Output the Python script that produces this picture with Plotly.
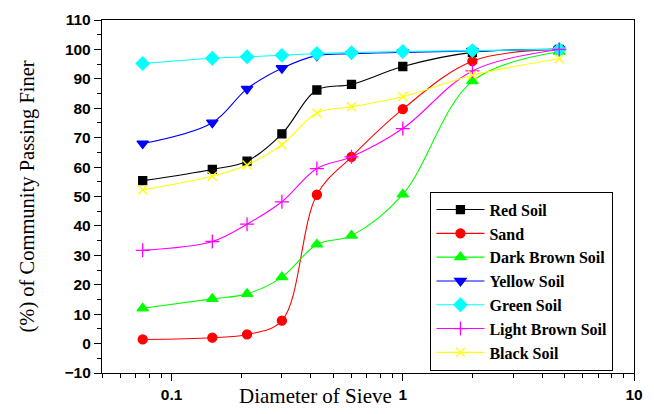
import plotly.graph_objects as go

sieve = [0.075, 0.15, 0.212, 0.3, 0.425, 0.6, 1.0, 2.0, 4.75]

red_soil = [55.4, 59.2, 62.0, 71.3, 86.2, 88.1, 94.2, 99.0, 100.0]
sand = [1.4, 2.0, 3.1, 7.8, 50.6, 63.5, 79.7, 96.0, 100.0]
dark_brown = [12.0, 15.2, 16.9, 22.6, 33.7, 36.7, 50.7, 89.2, 99.2]
yellow_soil = [68.0, 75.1, 86.6, 93.6, 97.9, 98.5, 99.0, 99.5, 100.0]
green_soil = [95.2, 97.0, 97.5, 98.0, 98.6, 98.9, 99.3, 99.6, 100.0]
light_brown = [31.7, 34.7, 40.6, 48.2, 59.5, 63.5, 73.1, 92.7, 100.0]
black_soil = [52.3, 56.9, 60.7, 67.6, 78.4, 80.5, 83.9, 91.2, 96.8]

series = [
    ("Red Soil", red_soil, "#000000", "square", 8),
    ("Sand", sand, "#FF0000", "circle", 9),
    ("Dark Brown Soil", dark_brown, "#00FF00", "triangle-up", 10),
    ("Yellow Soil", yellow_soil, "#0000FF", "triangle-down", 10),
    ("Green Soil", green_soil, "#00FFFF", "diamond", 10),
    ("Light Brown Soil", light_brown, "#FF00FF", "cross-thin-open", 10),
    ("Black Soil", black_soil, "#FFFF00", "x-thin-open", 9),
]

fig = go.Figure()
for name, vals, color, sym, size in series:
    fig.add_trace(go.Scatter(
        x=sieve, y=vals, name=name, mode="lines+markers",
        line=dict(color=color, width=1.1, shape="spline", smoothing=1.0),
        marker=dict(symbol=sym, size=size, color=color,
                    line=dict(color=color, width=1.3)),
        hoverinfo="skip",
    ))

tickfont = dict(family="Liberation Sans", size=15.5, color="black", weight="bold")
serif = "Liberation Serif"

fig.update_layout(
    width=654, height=414,
    margin=dict(l=102, r=11, t=16, b=34),
    paper_bgcolor="white", plot_bgcolor="white",
    showlegend=True,
    legend=dict(
        x=(436 - 102) / 541, y=(380 - 193) / 364, xanchor="left", yanchor="top",
        bgcolor="white", bordercolor="black", borderwidth=1,
        font=dict(family=serif, size=16, color="black", weight="bold"),
        tracegroupgap=0, itemwidth=48,
    ),
    xaxis=dict(
        type="log", range=[-1.30103, 1.0], dtick=1,
        showgrid=False, zeroline=False,
        showline=True, linecolor="black", linewidth=1.3, mirror=True,
        ticks="outside", ticklen=7, tickcolor="black", tickwidth=1.3,
        tickfont=tickfont,
        minor=dict(ticks="outside", ticklen=4, tickcolor="black", tickwidth=1, showgrid=False),
    ),
    yaxis=dict(
        range=[-10, 110], dtick=10, tick0=0,
        showgrid=False, zeroline=False,
        showline=True, linecolor="black", linewidth=1.3, mirror=True,
        ticks="outside", ticklen=7, tickcolor="black", tickwidth=1.3,
        tickfont=tickfont,
        minor=dict(dtick=5, ticks="outside", ticklen=4, tickcolor="black", tickwidth=1, showgrid=False),
    ),
    annotations=[
        dict(
            text="Diameter of Sieve", xref="paper", yref="paper",
            x=(319.5 - 102) / 541, y=0, xanchor="center", yanchor="middle", yshift=-23,
            showarrow=False,
            font=dict(family=serif, size=21, color="black"),
        ),
        dict(
            text="(%) of Community Passing Finer", xref="paper", yref="paper",
            x=0, y=0.5, xanchor="center", yanchor="middle", xshift=-75,
            textangle=-90, showarrow=False,
            font=dict(family=serif, size=20.5, color="black"),
        ),
    ],
)

fig.write_html("out.html", config={"displayModeBar": False},
               post_script="document.body.style.margin='0';")
